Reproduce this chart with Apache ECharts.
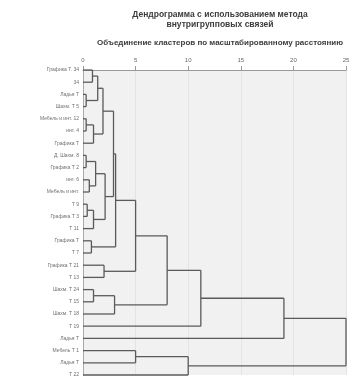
<!DOCTYPE html>
<html>
<head>
<meta charset="utf-8">
<script src="https://cdn.jsdelivr.net/npm/echarts@6/dist/echarts.min.js"></script>
<style>
    html, body { margin: 0; padding: 0; background: #fff; }
    #chart-box { width: 358px; height: 380px; }
</style>
</head>
<body>
<div id="chart-box"></div>
<script>
// leaf labels, top to bottom
const leafLabels = [
    'Графика Т. 34', '34',
    'Ладья Т', 'Шахм. Т 5',
    'Мебель и инт. 12', 'инт. 4',
    'Графика Т', 'Д. Шахм. 8',
    'Графика Т 2', 'инт. 6',
    'Мебель и инт.', 'Т 9',
    'Графика Т 3', 'Т 11',
    'Графика Т', 'Т 7',
    'Графика Т 21', 'Т 13',
    'Шахм. Т 24', 'Т 15',
    'Шахм. Т 18', 'Т 19',
    'Ладья Т', 'Мебель Т 1',
    'Ладья Т', 'Т 22'
];

// merge steps: [child a, child b, distance]; leaves are 0..25, new clusters get 26, 27, ...
const merges = [
    [0, 1, 0.9],
    [2, 3, 0.3],
    [26, 27, 1.4],
    [4, 5, 0.3],
    [29, 6, 1.0],
    [28, 30, 1.9],
    [7, 8, 0.3],
    [9, 10, 0.6],
    [32, 33, 1.2],
    [11, 12, 0.4],
    [35, 13, 1.0],
    [34, 36, 2.1],
    [31, 37, 2.9],
    [14, 15, 0.8],
    [38, 39, 3.1],
    [16, 17, 2.0],
    [40, 41, 5.0],
    [18, 19, 1.0],
    [43, 20, 3.0],
    [42, 44, 8.0],
    [45, 21, 11.2],
    [46, 22, 19.1],
    [23, 24, 5.0],
    [48, 25, 10.0],
    [47, 49, 25.0]
];

const xTicks = [0, 5, 10, 15, 20, 25];

// build the line segments of the tree
const pos = leafLabels.map((l, i) => [0, i]);
const segments = [];
merges.forEach((m) => {
    const a = pos[m[0]];
    const b = pos[m[1]];
    const h = m[2];
    segments.push([a[0], a[1], h, a[1]]);
    segments.push([b[0], b[1], h, b[1]]);
    segments.push([h, a[1], h, b[1]]);
    pos.push([h, (a[1] + b[1]) / 2]);
});

const option = {
    animation: false,
    title: [
        {
            text: 'Дендрограмма с использованием метода\nвнутригрупповых связей',
            left: 215,
            top: 5,
            textAlign: 'center',
            textStyle: {
                fontFamily: 'Liberation Sans',
                fontSize: 8.5,
                fontWeight: 'bold',
                lineHeight: 10,
                color: '#3c3c3c'
            }
        },
        {
            text: 'Объединение кластеров по масштабированному расстоянию',
            left: 215,
            top: 34,
            textAlign: 'center',
            textStyle: {
                fontFamily: 'Liberation Sans',
                fontSize: 8,
                fontWeight: 'bold',
                color: '#3c3c3c'
            }
        }
    ],
    grid: {
        left: 83,
        right: 12,
        top: 70,
        bottom: 5,
        show: true,
        backgroundColor: '#f1f1f1',
        borderWidth: 0
    },
    xAxis: {
        type: 'value',
        position: 'top',
        offset: 3,
        min: 0,
        max: 25,
        interval: 5,
        axisLine: {
            show: true,
            lineStyle: { color: '#999', width: 1 }
        },
        axisTick: {
            show: true,
            length: 4,
            lineStyle: { color: '#999' }
        },
        axisLabel: {
            color: '#666',
            fontSize: 6,
            margin: 4,
            formatter: (v) => xTicks.indexOf(v) >= 0 ? String(v) : ''
        },
        splitLine: {
            show: true,
            lineStyle: { color: '#e4e4e4', width: 1 }
        }
    },
    yAxis: {
        type: 'value',
        inverse: true,
        min: 0,
        max: 25,
        interval: 1,
        axisLine: {
            show: true,
            lineStyle: { color: '#aaa' }
        },
        axisTick: { show: false },
        splitLine: { show: false },
        axisLabel: {
            color: '#707070',
            fontSize: 5,
            margin: 4,
            formatter: (v) => leafLabels[v] || ''
        }
    },
    series: [
        {
            type: 'custom',
            clip: false,
            encode: { x: [0, 2], y: [1, 3] },
            data: segments,
            renderItem: function (params, api) {
                const p1 = api.coord([api.value(0), api.value(1)]);
                const p2 = api.coord([api.value(2), api.value(3)]);
                return {
                    type: 'line',
                    shape: { x1: p1[0], y1: p1[1], x2: p2[0], y2: p2[1] },
                    style: { stroke: '#5a5a5a', lineWidth: 1.3 }
                };
            }
        }
    ]
};

const chart = echarts.init(document.getElementById('chart-box'));
chart.setOption(option);
</script>
</body>
</html>
